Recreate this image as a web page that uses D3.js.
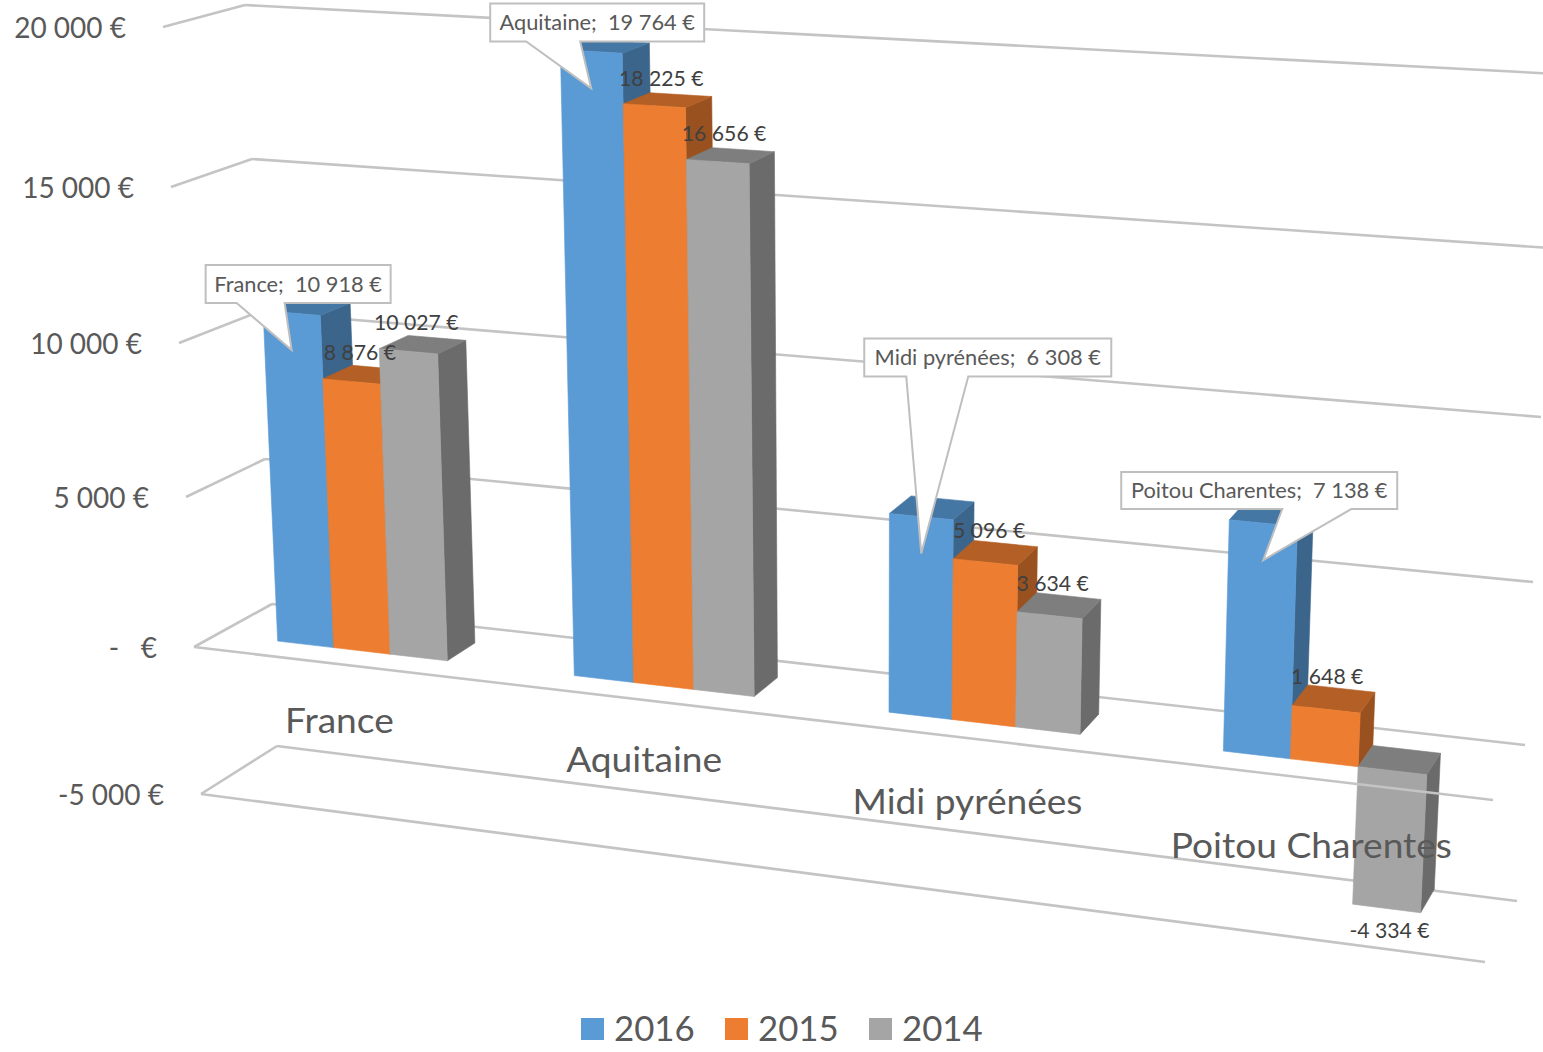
<!DOCTYPE html>
<html>
<head>
  <meta charset="utf-8">
  <script src="https://d3js.org/d3.v7.min.js"></script>
  <style>
    body { margin: 0; background: #fff; }
    svg { display: block; }
    text { font-family: Lato, sans-serif; white-space: pre; }
  </style>
</head>
<body>
  <div id="my_dataviz"></div>
  <script>
    // data
    var categories = ["France", "Aquitaine", "Midi pyrénées", "Poitou Charentes"];
    var years = ["2016", "2015", "2014"];
    var values2016 = [10918, 19764, 6308, 7138];
    var values2015 = [8876, 18225, 5096, 1648];
    var values2014 = [10027, 16656, 3634, -4334];
    var tickValues = [20000, 15000, 10000, 5000, 0, -5000];

    var seriesValues = [values2016, values2015, values2014];

    // face colours per series: front, top, side
    var colors = [
      ["#5B9BD5", "#4577A5", "#3B658B"],
      ["#ED7D31", "#B45F25", "#9A5120"],
      ["#A5A5A5", "#7E7E7E", "#6B6B6B"]
    ];

    // where the 3d box corners land on the page, for each tick value
    var frontLeftX = [163, 171, 179, 186, 194, 201];
    var frontLeftY = [27, 187, 343, 497, 647, 794];
    var backLeftX = [245, 252, 258, 265, 272, 277];
    var backLeftY = [5, 159, 312, 459, 604, 746];
    var backRightX = [1558, 1550, 1541, 1533, 1525, 1517];
    var backRightY = [74, 248, 417, 582, 745, 901];
    var frontRightX = [1517, 1511, 1506, 1501, 1493, 1485];
    var frontRightY = [108, 286, 466, 635, 800, 962];

    var width = 1543, height = 1052;

    var svg = d3.select("#my_dataviz")
      .append("svg")
      .attr("width", width)
      .attr("height", height);

    function edge(xs, ys) {
      return {
        x: d3.scaleLinear().domain(tickValues).range(xs),
        y: d3.scaleLinear().domain(tickValues).range(ys)
      };
    }
    var frontLeft = edge(frontLeftX, frontLeftY),
      backLeft = edge(backLeftX, backLeftY),
      backRight = edge(backRightX, backRightY),
      frontRight = edge(frontRightX, frontRightY);

    // category position along the chart, the right side is closer to the camera
    var perspective = 0.114;
    function along(u) {
      return u * (1 - perspective) / (1 - perspective * u);
    }

    // u: 0..1 along categories, v: value, d: 0 front .. 1 back
    function project(u, v, d) {
      var t = along(u);
      var lx = frontLeft.x(v) + (backLeft.x(v) - frontLeft.x(v)) * d,
        ly = frontLeft.y(v) + (backLeft.y(v) - frontLeft.y(v)) * d,
        rx = frontRight.x(v) + (backRight.x(v) - frontRight.x(v)) * d,
        ry = frontRight.y(v) + (backRight.y(v) - frontRight.y(v)) * d;
      return [lx + (rx - lx) * t, ly + (ry - ly) * t];
    }

    var x0 = d3.scaleBand()
      .domain(categories)
      .range([0, 1])
      .paddingInner(0.421)
      .paddingOuter(0.2105);
    var x1 = d3.scaleBand()
      .domain(years)
      .range([0, x0.bandwidth()]);

    var depthFront = 0.3, depthBack = 0.695, depthMid = 0.5;

    var line = d3.line();
    var fmt = d3.formatLocale({
      decimal: ",",
      thousands: " ",
      grouping: [3],
      currency: ["", " €"],
      minus: "-"
    }).format("$,");

    function gridLine(a, b) {
      svg.append("path")
        .attr("d", line([a, b]))
        .attr("fill", "none")
        .attr("stroke", "#C4C4C4")
        .attr("stroke-width", 2.6);
    }

    // back wall and side wall lines
    tickValues.forEach(function (v) {
      gridLine(project(0, v, 0), project(0, v, 1));
      gridLine(project(0, v, 1), project(1, v, 1));
    });
    // front edge of the lowest tick sits behind the bars too
    gridLine(project(0, -5000, 0), project(1, -5000, 0));

    // Bars, left to right so each front covers the side of the previous one
    categories.forEach(function (cat, i) {
      years.forEach(function (year, s) {
        var value = seriesValues[s][i];
        var u0 = x0(cat) + x1(year),
          u1 = u0 + x1.bandwidth();
        var top = Math.max(value, 0),
          bottom = Math.min(value, 0);

        var faces = [
          [[project(u1, top, depthFront), project(u1, top, depthBack), project(u1, bottom, depthBack), project(u1, bottom, depthFront)], colors[s][2]],
          [[project(u0, top, depthFront), project(u0, top, depthBack), project(u1, top, depthBack), project(u1, top, depthFront)], colors[s][1]],
          [[project(u0, top, depthFront), project(u1, top, depthFront), project(u1, bottom, depthFront), project(u0, bottom, depthFront)], colors[s][0]]
        ];
        faces.forEach(function (f) {
          svg.append("path")
            .attr("d", line(f[0]) + "Z")
            .attr("fill", f[1])
            .attr("stroke", f[1])
            .attr("stroke-width", 0.6);
        });
      });
    });

    // front line of the zero plane runs over the negative bar
    gridLine(project(0, 0, 0), project(1, 0, 0));

    // Y axis labels
    tickValues.forEach(function (v) {
      svg.append("text")
        .attr("x", frontLeft.x(v) - 37)
        .attr("y", frontLeft.y(v))
        .attr("dy", "0.38em")
        .attr("text-anchor", "end")
        .attr("font-size", 28)
        .attr("fill", "#595959")
        .text(v === 0 ? "-   €" : fmt(v));
    });

    // category labels, Lato is narrower than the original face at this height
    categories.forEach(function (cat) {
      var u = x0(cat) + x0.bandwidth() / 2;
      var p = project(u, -2000, 0);
      var label = svg.append("text")
        .attr("x", p[0] - 3.2 + along(u) * 5)
        .attr("y", p[1] + along(u) * 8 - 3.5)
        .attr("dy", "0.35em")
        .attr("text-anchor", "middle")
        .attr("font-size", 34.5)
        .attr("fill", "#595959")
        .text(cat);
      label.attr("textLength", label.node().getComputedTextLength() * 1.075)
        .attr("lengthAdjust", "spacingAndGlyphs");
    });

    // value labels of 2015 and 2014
    [1, 2].forEach(function (s) {
      categories.forEach(function (cat, i) {
        var value = seriesValues[s][i];
        var u = x0(cat) + x1(years[s]) + x1.bandwidth() / 2;
        var p = value < 0 ? project(u, value, depthFront) : project(u, value, depthMid);
        svg.append("text")
          .attr("x", p[0] + (value < 0 ? 3 : -6.5))
          .attr("y", p[1] + (value < 0 ? 22 : -22))
          .attr("dy", "0.35em")
          .attr("text-anchor", "middle")
          .attr("font-size", 21.2)
          .attr("fill", "#404040")
          .text(fmt(value));
      });
    });

    // callouts of 2016, box offsets from the pointer tip
    var calloutBox = [
      { left: -86, top: -85, w: 185, h: 38, base0: 31, base1: 79 },
      { left: -101, top: -85, w: 214, h: 38, base0: 36, base1: 90 },
      { left: -57, top: -215, w: 247, h: 38, base0: 42, base1: 104 },
      { left: -142, top: -88, w: 276, h: 37, base0: 161, base1: 230 }
    ];
    categories.forEach(function (cat, i) {
      var value = values2016[i];
      var tip = project(x0(cat) + x1("2016") + x1.bandwidth() / 2, value, depthFront);
      tip = [tip[0], tip[1] + 37];
      var b = calloutBox[i];
      var l = tip[0] + b.left, t = tip[1] + b.top, r = l + b.w, bot = t + b.h;
      svg.append("path")
        .attr("d", line([[l, t], [r, t], [r, bot], [l + b.base1, bot], tip, [l + b.base0, bot], [l, bot]]) + "Z")
        .attr("fill", "#fff")
        .attr("stroke", "#BFBFBF")
        .attr("stroke-width", 2);
      svg.append("text")
        .attr("x", (l + r) / 2)
        .attr("y", (t + bot) / 2)
        .attr("dy", "0.35em")
        .attr("text-anchor", "middle")
        .attr("font-size", 21.8)
        .attr("fill", "#595959")
        .text(cat + ";  " + fmt(value));
    });

    // legend
    var legendX = d3.scaleBand().domain(years).range([581, 1013]);
    years.forEach(function (year, s) {
      svg.append("rect")
        .attr("x", legendX(year))
        .attr("y", 1018)
        .attr("width", 23)
        .attr("height", 22)
        .attr("fill", colors[s][0]);
      svg.append("text")
        .attr("x", legendX(year) + 33)
        .attr("y", 1029)
        .attr("dy", "0.35em")
        .attr("font-size", 34.8)
        .attr("fill", "#595959")
        .text(year);
    });
  </script>
</body>
</html>
